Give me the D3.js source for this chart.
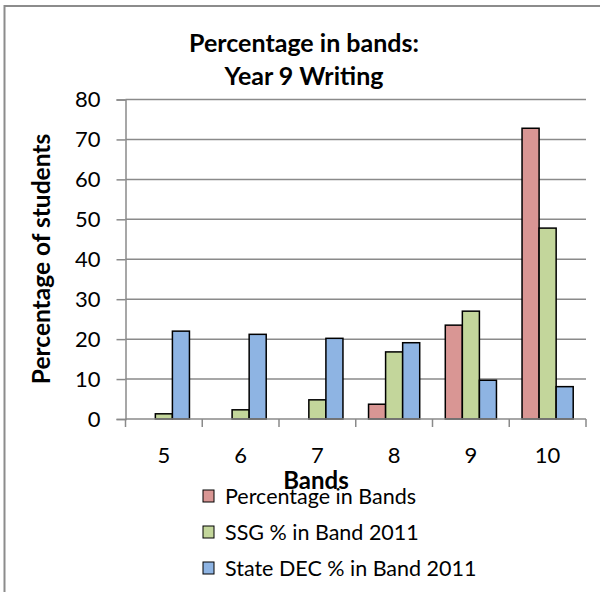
<!DOCTYPE html>
<html>
<head>
<meta charset="utf-8">
<script src="https://cdn.jsdelivr.net/npm/d3@7"></script>
<style>
  html, body { margin: 0; padding: 0; background: #fff; }
  svg { display: block; font-family: Lato, "Open Sans", sans-serif; }
</style>
</head>
<body>
<svg id="chart" width="600" height="592"></svg>
<script>
// Year 9 writing results by band
const categories = ["5", "6", "7", "8", "9", "10"];
const seriesNames = ["Percentage in Bands", "SSG % in Band 2011", "State DEC % in Band 2011"];
const percentageInBands = [0, 0, 0, 3.7, 23.5, 72.8];
const ssgInBand2011 = [1.3, 2.3, 4.8, 16.8, 27.0, 47.8];
const stateDecInBand2011 = [22.0, 21.2, 20.2, 19.1, 9.7, 8.1];
const yTicks = [0, 10, 20, 30, 40, 50, 60, 70, 80];
const seriesColors = ["#d99694", "#c3d69b", "#8eb4e3"];

const seriesValues = [percentageInBands, ssgInBand2011, stateDecInBand2011];
const rows = categories.map((c, i) => ({
  category: c,
  values: seriesNames.map((s, k) => ({ series: s, value: seriesValues[k][i], color: seriesColors[k] }))
}));

const svg = d3.select("#chart");
const plot = { left: 125.5, right: 586, top: 99.5, bottom: 419 };

// chart frame (only the top and left edges fall inside the page)
svg.append("rect")
  .attr("x", 4.5).attr("y", 6)
  .attr("width", 800).attr("height", 800)
  .attr("fill", "none").attr("stroke", "#8c8c8c").attr("stroke-width", 2);

const x0 = d3.scaleBand().domain(categories).range([plot.left, plot.right]).padding(0);
const x1 = d3.scaleBand().domain(seriesNames).range([0, x0.bandwidth()])
  .paddingInner(0).paddingOuter(0.75);
const y = d3.scaleLinear().domain([0, 80]).range([plot.bottom, plot.top]);

const gridColor = "#8a8a8a";

// horizontal gridlines
svg.append("g")
  .selectAll("line")
  .data(yTicks.filter(t => t > 0))
  .join("line")
  .attr("x1", plot.left).attr("x2", plot.right)
  .attr("y1", d => y(d)).attr("y2", d => y(d))
  .attr("stroke", gridColor).attr("stroke-width", 1.5);

// y axis
const yAxis = svg.append("g")
  .attr("transform", `translate(${plot.left},0)`)
  .call(d3.axisLeft(y).tickValues(yTicks).tickSize(9).tickPadding(16));
yAxis.select(".domain").attr("stroke", gridColor).attr("stroke-width", 1.5);
yAxis.selectAll(".tick line").attr("stroke", gridColor).attr("stroke-width", 1.5);
yAxis.selectAll(".tick text")
  .attr("font-size", 22).attr("fill", "#000")
  .attr("font-family", "Lato, sans-serif");

// bars
svg.append("g")
  .selectAll("g")
  .data(rows)
  .join("g")
  .attr("transform", d => `translate(${x0(d.category)},0)`)
  .selectAll("rect")
  .data(d => d.values.filter(v => v.value > 0))
  .join("rect")
  .attr("x", d => x1(d.series))
  .attr("width", x1.bandwidth())
  .attr("y", d => y(d.value))
  .attr("height", d => y(0) - y(d.value))
  .attr("fill", d => d.color)
  .attr("stroke", "#000").attr("stroke-width", 1.5);

// x axis with ticks between categories
const xAxisG = svg.append("g");
xAxisG.append("line")
  .attr("x1", plot.left).attr("x2", plot.right)
  .attr("y1", y(0)).attr("y2", y(0))
  .attr("stroke", gridColor).attr("stroke-width", 1.5);
const boundaries = categories.map(c => x0(c)).concat([x0(categories[categories.length - 1]) + x0.bandwidth()]);
xAxisG.selectAll("line.tick")
  .data(boundaries)
  .join("line")
  .attr("class", "tick")
  .attr("x1", d => d).attr("x2", d => d)
  .attr("y1", y(0)).attr("y2", y(0) + 8)
  .attr("stroke", gridColor).attr("stroke-width", 1.5);
xAxisG.selectAll("text")
  .data(categories)
  .join("text")
  .attr("x", d => x0(d) + x0.bandwidth() / 2)
  .attr("y", 463)
  .attr("text-anchor", "middle")
  .attr("font-size", 22)
  .text(d => d);

// titles
const title = svg.append("text")
  .attr("text-anchor", "middle")
  .attr("font-weight", "bold")
  .attr("font-size", 25);
title.append("tspan").attr("x", 304).attr("y", 52).text("Percentage in bands:");
title.append("tspan").attr("x", 304).attr("y", 85).text("Year 9 Writing");

svg.append("text")
  .attr("x", 316).attr("y", 489)
  .attr("text-anchor", "middle")
  .attr("font-weight", "bold")
  .attr("font-size", 24)
  .text("Bands");

svg.append("text")
  .attr("transform", `translate(50,259) rotate(-90)`)
  .attr("text-anchor", "middle")
  .attr("font-weight", "bold")
  .attr("font-size", 24.5)
  .text("Percentage of students");

// legend
const legend = svg.append("g")
  .selectAll("g")
  .data(seriesNames)
  .join("g")
  .attr("transform", (d, i) => `translate(203,${490 + i * 36})`);
legend.append("rect")
  .attr("width", 11).attr("height", 12)
  .attr("fill", (d, i) => seriesColors[i])
  .attr("stroke", "#000").attr("stroke-width", 1);
legend.append("text")
  .attr("x", 22).attr("y", 13.5)
  .attr("font-size", 21.5)
  .text(d => d);
</script>
</body>
</html>
